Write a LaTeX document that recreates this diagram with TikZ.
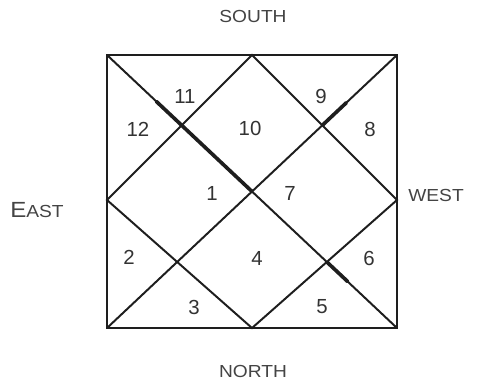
\documentclass[tikz,border=0pt]{standalone}
\usepackage{fontspec}
\setmainfont{Liberation Sans}
\newfontfamily\quarterfont[FakeStretch=1.1]{Liberation Sans}
\usepackage{xcolor}
\usepackage{tikz}
\usetikzlibrary{calc}
\definecolor{chartink}{HTML}{1E1E1E}
\definecolor{numink}{HTML}{333333}
\definecolor{labelgray}{HTML}{444444}
\tikzset{
  rim/.style    ={draw=chartink,line width=1.3pt},
  rule/.style   ={draw=chartink,line width=1.4pt},
  heavy/.style  ={draw=chartink,line width=2.6pt,line cap=round},
  house/.style  ={font=\fontsize{14.5}{16}\selectfont,text=numink,inner sep=0pt},
  quarter/.style={font=\quarterfont\fontsize{12.4}{14}\selectfont,text=labelgray,inner sep=0pt}
}

\begin{document}
\begin{tikzpicture}[x=0.025cm,y=-0.025cm]
        \useasboundingbox (0,0) rectangle (484,383);
        \coordinate (tl) at (107,55);
        \coordinate (tr) at (397,55);
        \coordinate (bl) at (107,328);
        \coordinate (br) at (397,328);
        \coordinate (tm) at (252,55);
        \coordinate (bm) at (252,328);
        \coordinate (lm) at (107,200);
        \coordinate (rm) at (397,200);
        \draw[rim] (tl) rectangle (br);
        \draw[rule] (tl) -- (br);
        \draw[rule] (bl) -- (tr);
        \draw[rule] (tm) -- (rm) -- (bm) -- (lm) -- cycle;
        \draw[heavy] ($(tl)!0.17!(br)$) -- ($(tl)!0.5!(br)$);
        \draw[heavy] ($(bl)!0.745!(tr)$) -- ($(bl)!0.825!(tr)$);
        \draw[heavy] ($(tl)!0.76!(br)$) -- ($(tl)!0.83!(br)$);
        \node[house] (h1)  at (212,193) {1};
        \node[house] (h2)  at (129,257) {2};
        \node[house] (h3)  at (194,307) {3};
        \node[house] (h4)  at (257,258) {4};
        \node[house] (h5)  at (322,307) {5};
        \node[house] (h6)  at (369,258) {6};
        \node[house] (h7)  at (290,193) {7};
        \node[house] (h8)  at (370,129) {8};
        \node[house] (h9)  at (321,96)  {9};
        \node[house] (h10) at (250,128) {10};
        \node[house] (h11) at (185,96)  {11};
        \node[house] (h12) at (138,129) {12};
        \node[quarter] (south) at (253,16)  {SOUTH};
        \node[quarter] (north) at (253,371) {NORTH};
        \node[quarter] (east)  at (37,210)  {{\fontsize{15.6}{16}\selectfont E}AST};
        \node[quarter] (west)  at (436,195) {WEST};
      \end{tikzpicture}
\end{document}
